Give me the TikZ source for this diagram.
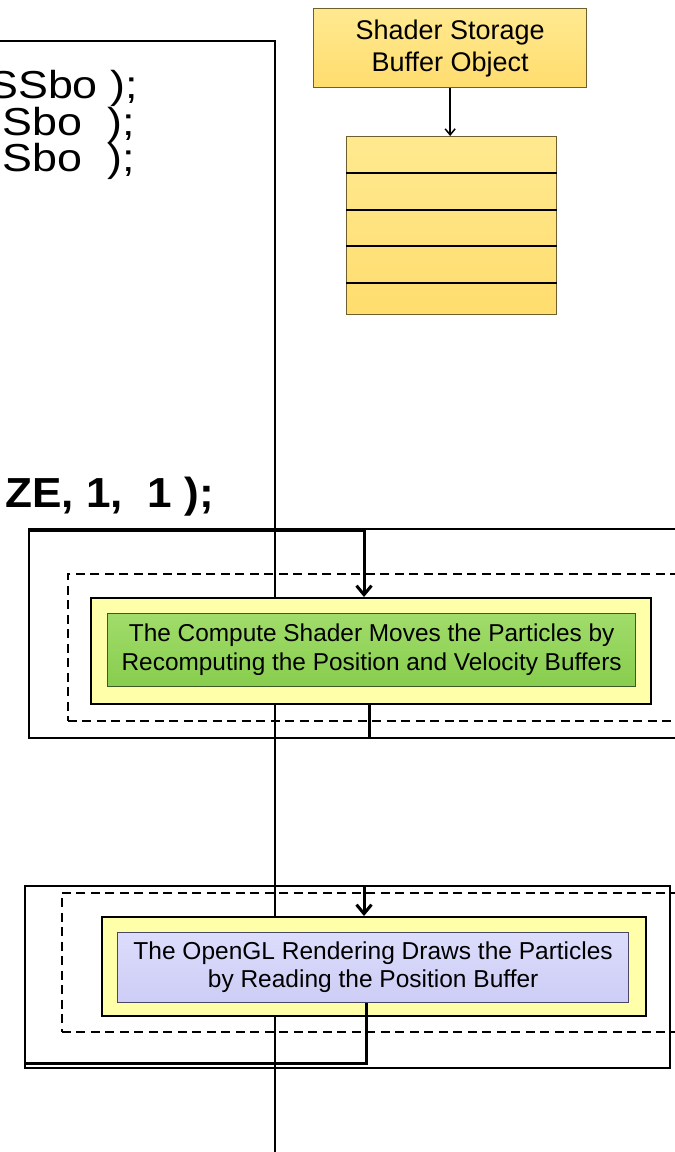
\documentclass[tikz,border=0pt]{standalone}
\usepackage{fontspec}
\setmainfont{Liberation Sans}
\newfontfamily\codefont[FakeStretch=1.15]{Liberation Sans}
\newfontfamily\callfont[FakeStretch=1.05]{Liberation Sans}
\usetikzlibrary{arrows.meta}

\definecolor{gold}{HTML}{FFDD6E}
\definecolor{goldlight}{HTML}{FFE990}
\definecolor{goldedge}{HTML}{6E5F2C}
\definecolor{paleyellow}{HTML}{FFFFAA}
\definecolor{leaf}{HTML}{88CD4E}
\definecolor{leaflight}{HTML}{A0DC6A}
\definecolor{leafedge}{HTML}{3C5A26}
\definecolor{lilac}{HTML}{CDCDF6}
\definecolor{lilaclight}{HTML}{DCDCFC}
\definecolor{lilacedge}{HTML}{484862}

\begin{document}
\begin{tikzpicture}[x=1pt,y=-1pt,
  code/.style={inner sep=0pt, anchor=base east, font=\codefont\fontsize{39}{44}\selectfont},
  rule/.style={line width=1.5pt},
  frame/.style={draw, line width=1.8pt, inner sep=0pt, anchor=north west},
  dashframe/.style={draw, line width=1.7pt, dash pattern=on 9pt off 5.5pt, inner sep=0pt, anchor=north west},
  pad/.style={draw, line width=2.4pt, fill=paleyellow, inner sep=0pt, anchor=north west},
  taskbox/.style={line width=1.3pt, inner sep=0pt, anchor=north west, align=center},
  goldbox/.style={draw=goldedge, line width=1.3pt, top color=goldlight, bottom color=gold,
    inner sep=0pt, anchor=north west, align=center},
  flow/.style={line width=3pt},
  flowarrow/.style={line width=3pt, -{Straight Barb[length=9pt,width=15pt]}},
  smallarrow/.style={line width=1.5pt, -{Straight Barb[length=6pt,width=10pt]}}
]
\useasboundingbox (0,0) rectangle (675,1152);
\clip (0,0) rectangle (675,1152);

% code panel edge and the long vertical rule under it
\coordinate (codeW) at (-5,41);
\coordinate (codeNE) at (275,41);
\coordinate (ruleEnd) at (275,1160);
\draw[rule] (codeW) -- (codeNE) -- (ruleEnd);

% code lines
\node[code] (c1) at (138,98) {SSbo );};
\node[code] (c2) at (135,135) {Sbo\ \ );};
\node[code] (c3) at (135,171) {Sbo\ \ );};
\node[code, font=\callfont\fontsize{42}{46}\selectfont\bfseries] (c4) at (214,507) {ZE, 1,\ \ 1 );};

% shader storage buffer object and its buffer
\node[goldbox, minimum width=273pt, minimum height=79pt,
      font=\fontsize{27}{32}\selectfont] (ssbo) at (313,8) {Shader Storage\\Buffer Object};
\node[goldbox, minimum width=210pt, minimum height=178pt] (buf) at (346,136) {};
\foreach \yy in {173,210,246,283}
  \draw[line width=1.5pt] (buf.west |- 0,\yy) -- (buf.east |- 0,\yy);
\draw[smallarrow] (ssbo.south) -- (ssbo.south |- buf.north);

% compute stage
\node[frame, minimum width=700pt, minimum height=209pt] (cmpFrame) at (28,528) {};
\node[dashframe, minimum width=660pt, minimum height=147pt] (cmpDash) at (67,573) {};
\node[pad, minimum width=560pt, minimum height=106pt] (cmpPad) at (90,597) {};
\node[taskbox, draw=leafedge, top color=leaflight, bottom color=leaf,
      minimum width=528pt, minimum height=73pt,
      font=\fontsize{24.4}{29}\selectfont] (cmpTask) at (107,613)
  {The Compute Shader Moves the Particles by\\Recomputing the Position and Velocity Buffers};

% render stage
\node[frame, minimum width=645pt, minimum height=182pt] (rndFrame) at (24,885) {};
\node[dashframe, minimum width=660pt, minimum height=139pt] (rndDash) at (61,892) {};
\node[pad, minimum width=544pt, minimum height=99pt] (rndPad) at (101,916) {};
\node[taskbox, draw=lilacedge, top color=lilaclight, bottom color=lilac,
      minimum width=511pt, minimum height=70pt,
      font=\fontsize{24.5}{28}\selectfont] (rndTask) at (117,932)
  {The OpenGL Rendering Draws the Particles\\by Reading the Position Buffer};

% flow into and out of the compute stage
\coordinate (cmpIn) at (364,530);
\draw[flowarrow] (cmpFrame.north west |- cmpIn) -- (cmpIn) -- (cmpIn |- cmpPad.north);
\coordinate (cmpOut) at (369,0);
\draw[flow] (cmpOut |- cmpPad.south) -- (cmpOut |- cmpFrame.south);

% flow into and out of the render stage
\coordinate (rndIn) at (364,0);
\draw[flowarrow] (rndIn |- rndFrame.north) -- (rndIn |- rndPad.north);
\coordinate (rndOut) at (366,1063);
\draw[flow] (rndOut |- rndTask.south) -- (rndOut) -- (rndFrame.west |- rndOut);
\end{tikzpicture}
\end{document}
